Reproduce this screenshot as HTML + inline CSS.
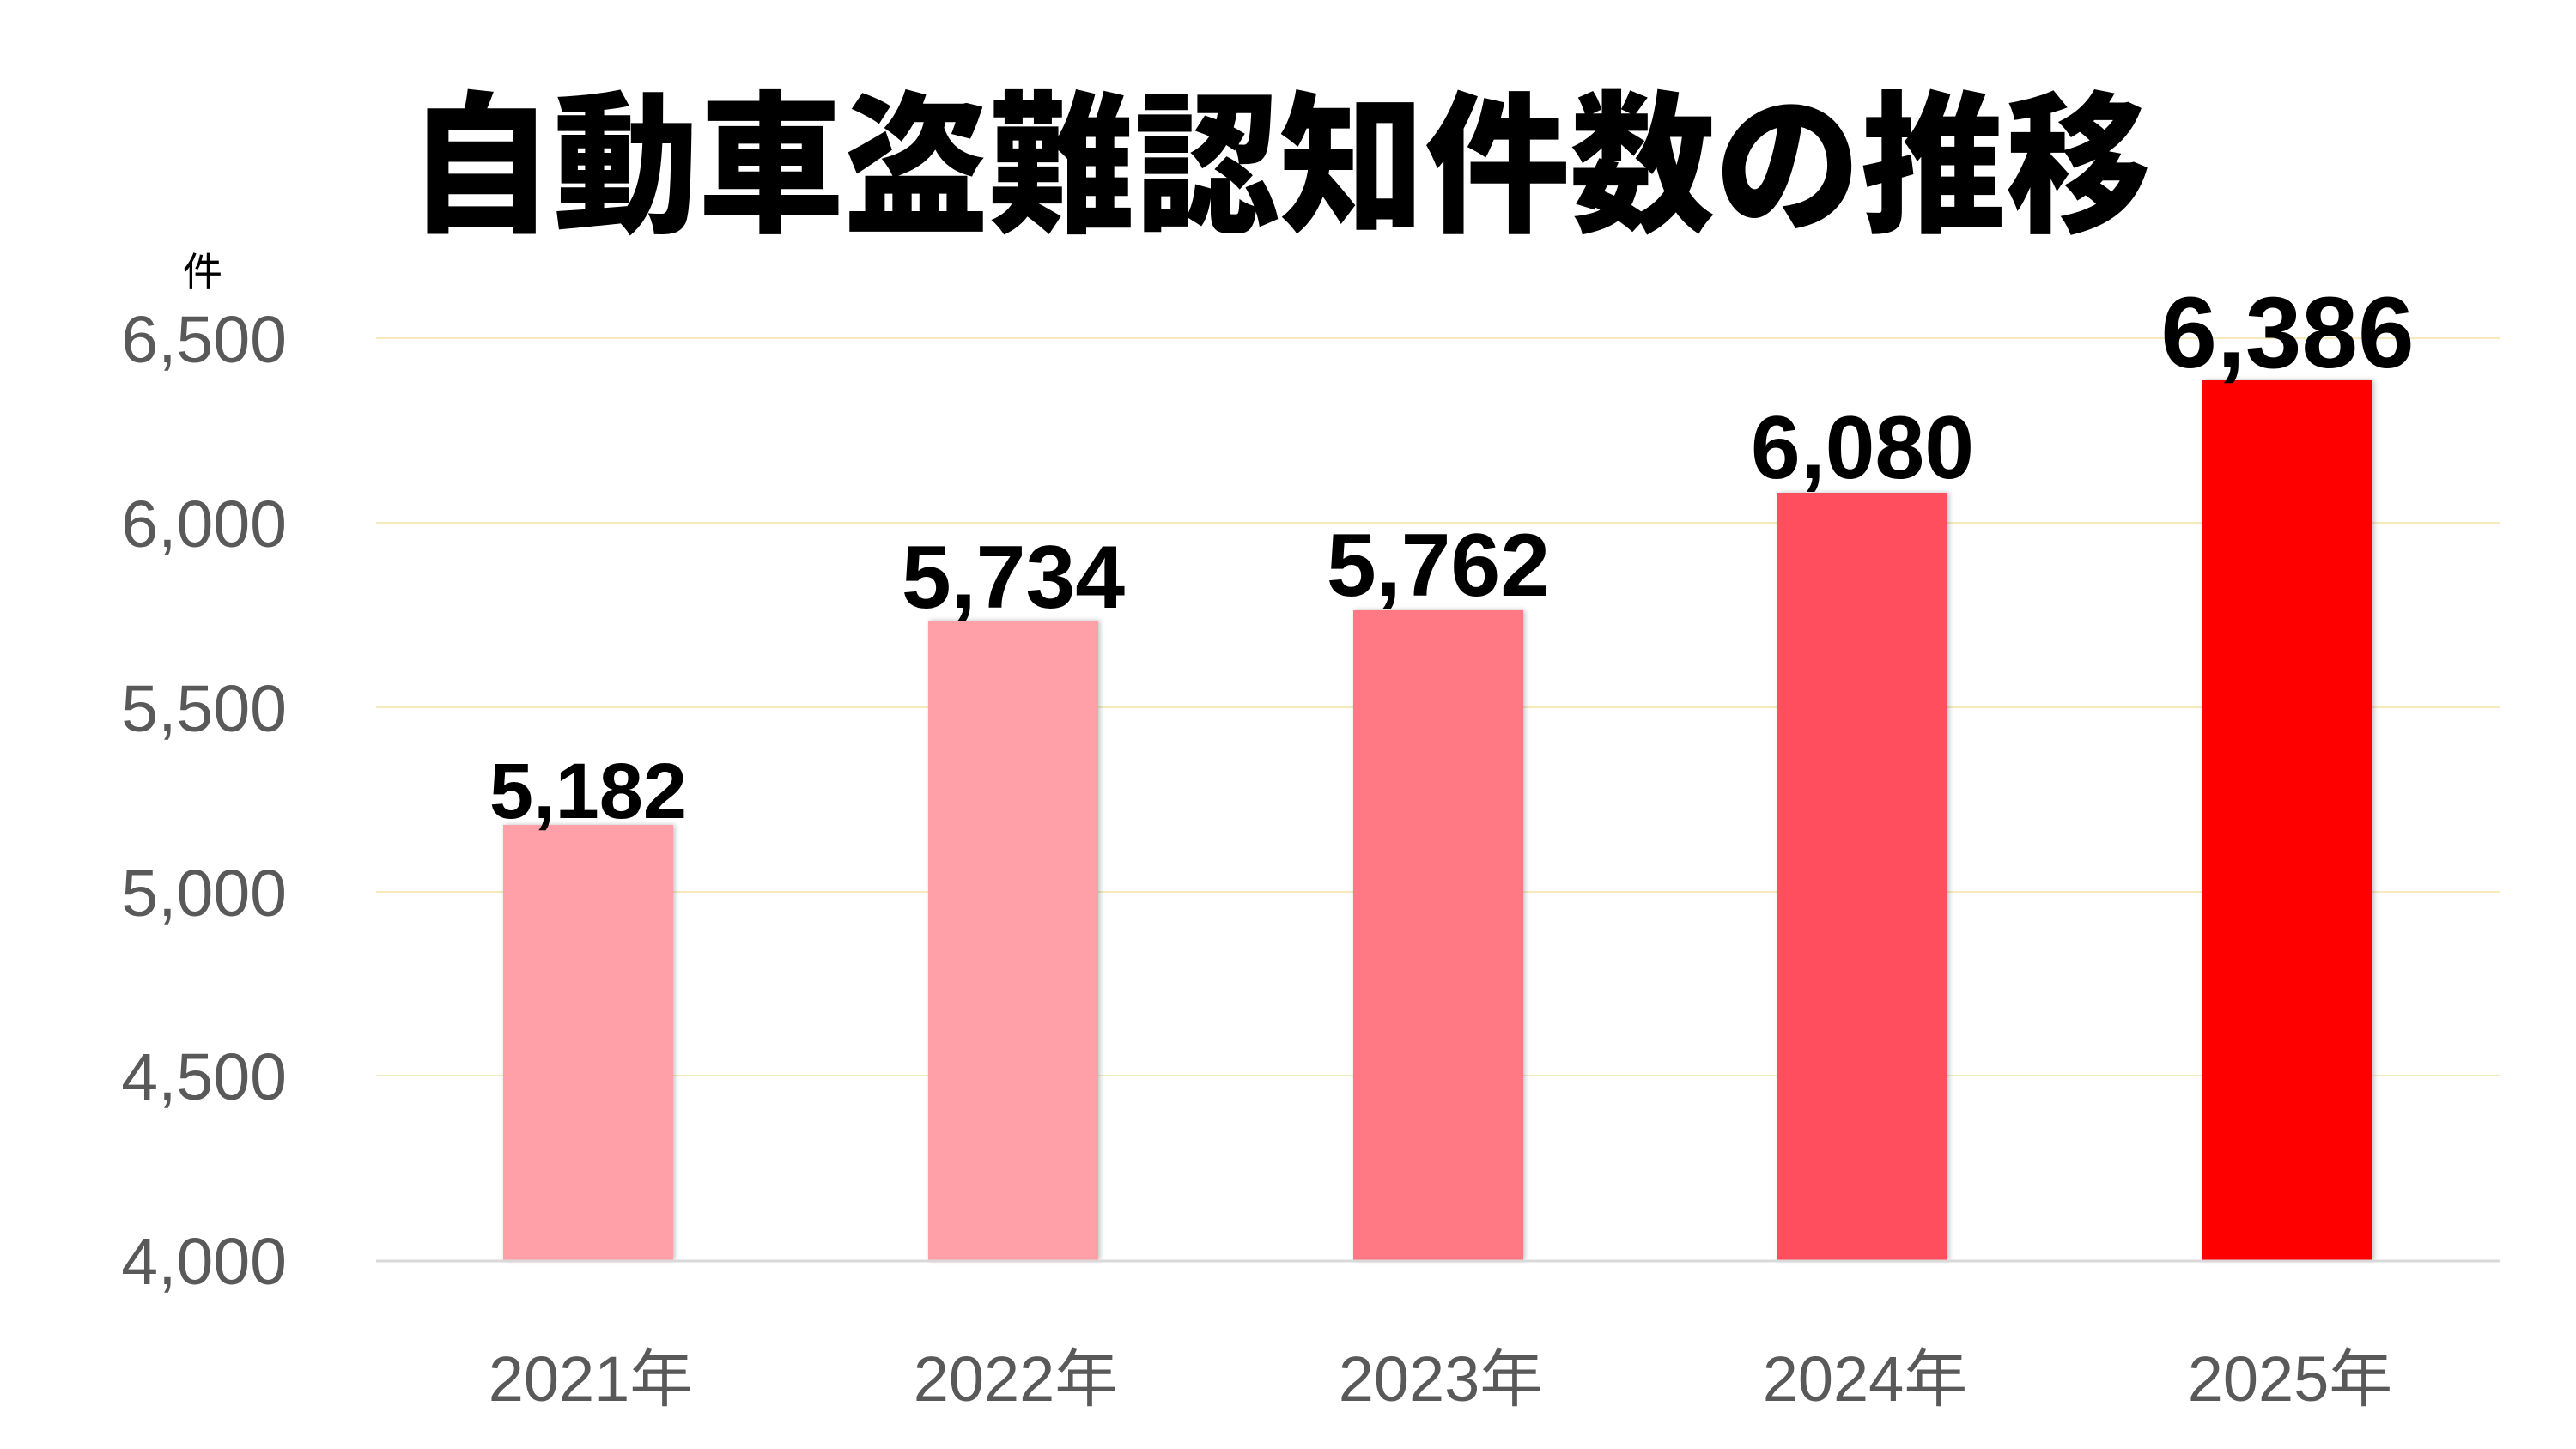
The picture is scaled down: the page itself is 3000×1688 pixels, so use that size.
<!DOCTYPE html>
<html><head><meta charset="utf-8"><style>
html,body{margin:0;padding:0;background:#fff;}
svg{display:block;}
</style></head><body>
<svg width="3000" height="1688" viewBox="0 0 3000 1688" xmlns="http://www.w3.org/2000/svg">
<defs>
<filter id="sh" x="-10%" y="-5%" width="120%" height="110%"><feDropShadow dx="2" dy="0" stdDeviation="3" flood-color="#000" flood-opacity="0.25"/></filter>
</defs>
<rect width="3000" height="1688" fill="#fff"/>
<text x="475" y="256" font-family="'Liberation Sans','Noto Sans CJK JP',sans-serif" font-weight="900" font-size="178" textLength="2030" lengthAdjust="spacingAndGlyphs" fill="#000">自動車盗難認知件数の推移</text>
<text x="236" y="333" text-anchor="middle" font-family="'Liberation Sans','Noto Sans CJK JP',sans-serif" font-size="46" fill="#000">件</text>
<g stroke="#f8e9bd" stroke-width="2">
<line x1="438" y1="394" x2="2911" y2="394"/>
<line x1="438" y1="609" x2="2911" y2="609"/>
<line x1="438" y1="824" x2="2911" y2="824"/>
<line x1="438" y1="1039" x2="2911" y2="1039"/>
<line x1="438" y1="1253" x2="2911" y2="1253"/>
</g>
<g font-family="'Liberation Sans',sans-serif" font-size="77" fill="#595959" text-anchor="end">
<text x="334" y="422">6,500</text>
<text x="334" y="637">6,000</text>
<text x="334" y="852">5,500</text>
<text x="334" y="1067">5,000</text>
<text x="334" y="1281">4,500</text>
<text x="334" y="1496">4,000</text>
</g>
<g filter="url(#sh)">
<rect x="586" y="961" width="198" height="507" fill="#ffa0a9"/>
<rect x="1081" y="723" width="198" height="745" fill="#ffa0a9"/>
<rect x="1576" y="711" width="198" height="757" fill="#ff7985"/>
<rect x="2070" y="574" width="198" height="894" fill="#ff4f5f"/>
<rect x="2565" y="443" width="198" height="1025" fill="#ff0000"/>
</g>
<line x1="438" y1="1469" x2="2911" y2="1469" stroke="#d9d9d9" stroke-width="3"/>
<g font-family="'Liberation Sans',sans-serif" font-weight="bold" fill="#000" text-anchor="middle">
<text x="685" y="953" font-size="92">5,182</text>
<text x="1180" y="708" font-size="104">5,734</text>
<text x="1675" y="694" font-size="104">5,762</text>
<text x="2169" y="557" font-size="104">6,080</text>
<text x="2664" y="428" font-size="118">6,386</text>
</g>
<g font-family="'Liberation Sans','Noto Sans CJK JP',sans-serif" font-size="74" fill="#595959" text-anchor="middle">
<text x="688" y="1632">2021年</text>
<text x="1183" y="1632">2022年</text>
<text x="1678" y="1632">2023年</text>
<text x="2172" y="1632">2024年</text>
<text x="2667" y="1632">2025年</text>
</g>
</svg>
</body></html>
